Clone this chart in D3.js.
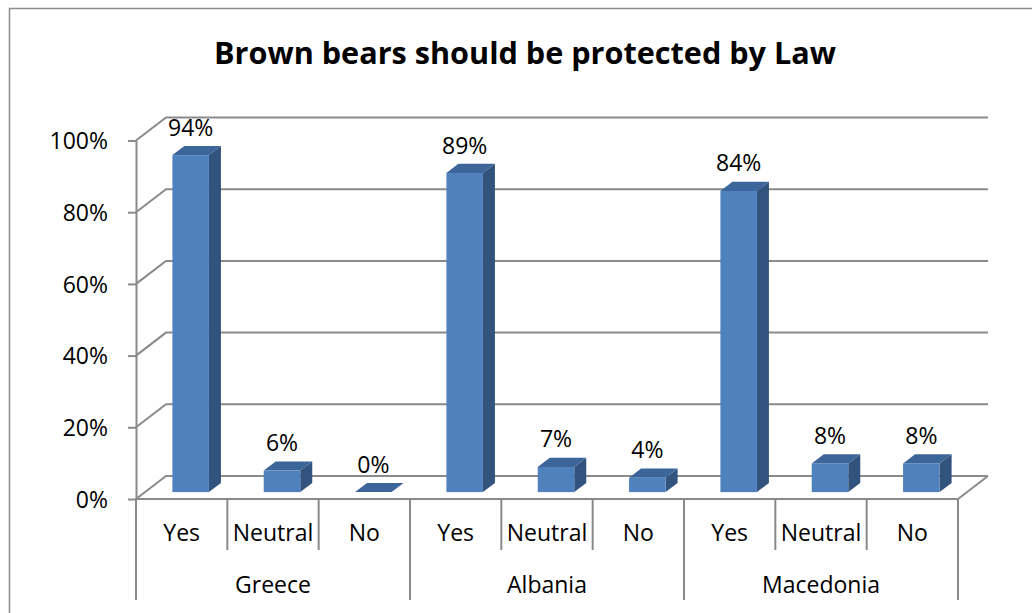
<!DOCTYPE html>
<html>
<head>
<meta charset="utf-8">
<script src="https://cdn.jsdelivr.net/npm/d3@7"></script>
<style>
  body { margin: 0; background: #fff; }
  svg { display: block; }
  text { font-family: "Open Sans", "Noto Sans", sans-serif; fill: #000; }
</style>
</head>
<body>
<script>
// chart values (percent)
var groups = ["Greece", "Albania", "Macedonia"];
var answers = ["Yes", "Neutral", "No"];
var greece = [94, 6, 0];
var albania = [89, 7, 4];
var macedonia = [84, 8, 8];
var yTicks = [0, 20, 40, 60, 80, 100];
var title = "Brown bears should be protected by Law";

var width = 1032, height = 613;
var fs = 23;

// one row per bar
var series = [greece, albania, macedonia];
var rows = [];
groups.forEach(function(g, gi) {
  answers.forEach(function(a, ai) {
    rows.push({ key: g + "|" + a, group: g, answer: a, value: series[gi][ai] });
  });
});

var svg = d3.select("body").append("svg")
  .attr("width", width)
  .attr("height", height);

// outer chart border (right and bottom run past the picture)
svg.append("rect")
  .attr("x", 9.5).attr("y", 8.5)
  .attr("width", 1100).attr("height", 700)
  .attr("fill", "none")
  .attr("stroke", "#8c8c8c")
  .attr("stroke-width", 1.5);

// 3d depth of the plot box
var DX = 30, DY = -23;
var grid = "#8a8a8a";

var x = d3.scaleBand()
  .domain(rows.map(function(d) { return d.key; }))
  .range([136, 958])
  .paddingInner(0).paddingOuter(0);

var y = d3.scaleLinear()
  .domain([0, 100])
  .range([499, 140.5]);

// gridlines: side-wall diagonal then back wall
var gl = svg.append("g");
yTicks.forEach(function(t) {
  var yy = y(t);
  gl.append("path")
    .attr("d", "M" + 136 + "," + yy + "L" + (136 + DX) + "," + (yy + DY) + "H" + (958 + DX))
    .attr("fill", "none")
    .attr("stroke", grid)
    .attr("stroke-width", 2);
});

// floor front edge + right edge
gl.append("path")
  .attr("d", "M136," + y(0) + "H958L" + (958 + DX) + "," + (y(0) + DY))
  .attr("fill", "none")
  .attr("stroke", grid)
  .attr("stroke-width", 2);

// y axis
var yAxis = svg.append("g")
  .attr("transform", "translate(136,0)")
  .call(d3.axisLeft(y).tickValues(yTicks)
    .tickFormat(function(d) { return d + "%"; })
    .tickSize(8).tickSizeOuter(0).tickPadding(20));
yAxis.select(".domain").attr("stroke", grid).attr("stroke-width", 2);
yAxis.selectAll(".tick line").attr("stroke", grid).attr("stroke-width", 2);
yAxis.selectAll(".tick text")
  .attr("font-family", "Open Sans")
  .attr("font-size", fs)
  .attr("dy", "0.36em")
  .attr("fill", "#000");

// category separators
var sep = svg.append("g");
var bw = x.bandwidth();
rows.forEach(function(d, i) {
  var xx = x(d.key);
  sep.append("line")
    .attr("x1", xx).attr("x2", xx)
    .attr("y1", y(0)).attr("y2", i % answers.length === 0 ? 600 : 550)
    .attr("stroke", grid).attr("stroke-width", 2);
});
sep.append("line")
  .attr("x1", 958).attr("x2", 958)
  .attr("y1", y(0)).attr("y2", 600)
  .attr("stroke", grid).attr("stroke-width", 2);

// answer labels
svg.append("g").selectAll("text")
  .data(rows)
  .join("text")
  .attr("x", function(d) { return x(d.key) + bw / 2; })
  .attr("y", 541)
  .attr("text-anchor", "middle")
  .attr("font-size", fs)
  .text(function(d) { return d.answer; });

// country labels
svg.append("g").selectAll("text")
  .data(groups)
  .join("text")
  .attr("x", function(g) {
    return (x(g + "|" + answers[0]) + x(g + "|" + answers[answers.length - 1]) + bw) / 2;
  })
  .attr("y", 593)
  .attr("text-anchor", "middle")
  .attr("font-size", fs)
  .text(function(g) { return g; });

// 3d bars: front face 0.3 deep, back face 0.7 deep
var barW = bw * 0.4;
var f0 = 0.3, f1 = 0.7;
var bdx = (f1 - f0) * DX, bdy = (f1 - f0) * DY;

var bars = svg.append("g").selectAll("g")
  .data(rows)
  .join("g")
  .attr("transform", "translate(" + (f0 * DX) + "," + (f0 * DY) + ")");

bars.each(function(d) {
  var g = d3.select(this);
  var x0 = x(d.key) + (bw - barW) / 2, x1 = x0 + barW;
  var yt = y(d.value), yb = y(0);
  // side
  g.append("path")
    .attr("d", "M" + x1 + "," + yb + "L" + (x1 + bdx) + "," + (yb + bdy) +
      "L" + (x1 + bdx) + "," + (yt + bdy) + "L" + x1 + "," + yt + "Z")
    .attr("fill", "#32537e");
  // top
  g.append("path")
    .attr("d", "M" + x0 + "," + yt + "L" + x1 + "," + yt +
      "L" + (x1 + bdx) + "," + (yt + bdy) + "L" + (x0 + bdx) + "," + (yt + bdy) + "Z")
    .attr("fill", "#3c6599");
  // front
  g.append("rect")
    .attr("x", x0).attr("y", yt)
    .attr("width", barW).attr("height", yb - yt)
    .attr("fill", "#4f81bd");
  // value label
  g.append("text")
    .attr("x", (x0 + x1) / 2)
    .attr("y", yt - 19.5)
    .attr("text-anchor", "middle")
    .attr("font-size", fs)
    .text(d.value + "%");
});

// title, fitted to the original's width
var tt = svg.append("text")
  .attr("x", 525)
  .attr("y", 64)
  .attr("text-anchor", "middle")
  .attr("font-weight", "bold")
  .attr("font-size", 30)
  .text(title);
var tw = tt.node().getComputedTextLength();
tt.attr("font-size", 30 * 622 / tw);
</script>
</body>
</html>
